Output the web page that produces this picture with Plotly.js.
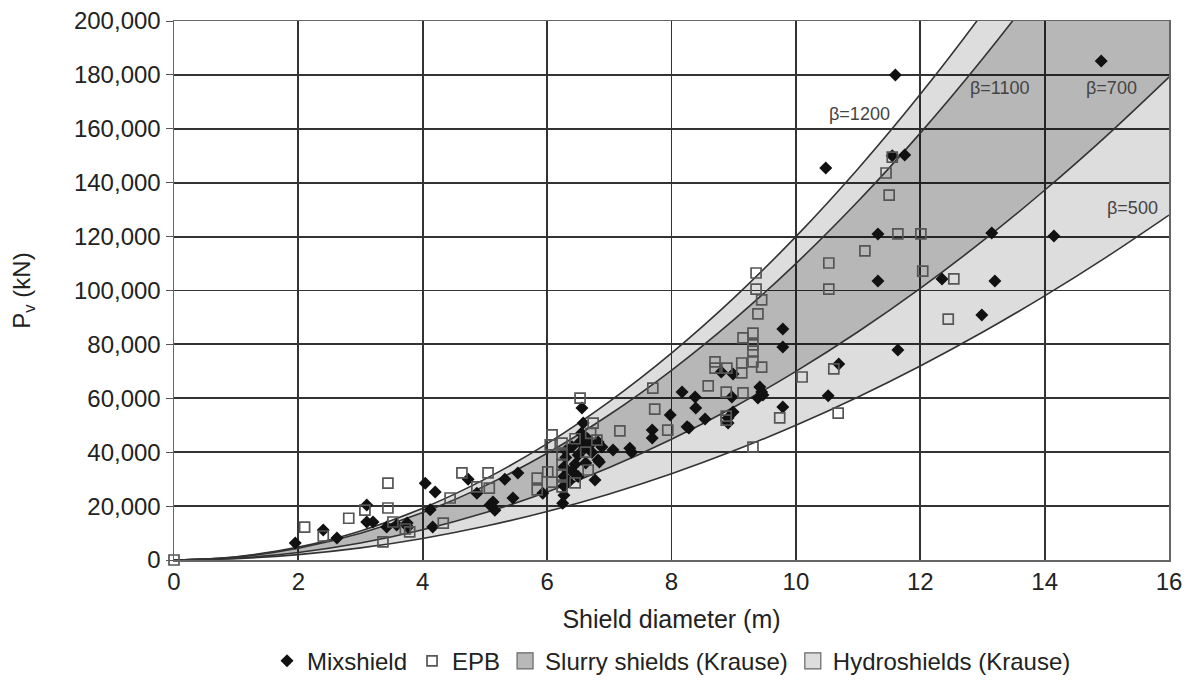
<!DOCTYPE html>
<html>
<head>
<meta charset="utf-8">
<script src="https://cdn.plot.ly/plotly-3.0.1.min.js"></script>
<style>html,body{margin:0;padding:0;background:#fff;}#chart{width:1191px;height:680px;}</style>
</head>
<body>
<div id="chart"></div>
<script>
// Shield diameter grid (m) for the Krause beta-curves
const diameter = [0,1,2,3,4,5,6,7,8,9,10,11,12,13,14,15,16];
// Pv values (kN)
const beta500  = [0,500,2000,4500,8000,12500,18000,24500,32000,40500,50000,60500,72000,84500,98000,112500,128000];
const beta700  = [0,700,2800,6300,11200,17500,25200,34300,44800,56700,70000,84700,100800,118300,137200,157500,179200];
const beta1100 = [0,1100,4400,9900,17600,27500,39600,53900,70400,89100,110000,133100,158400,185900,215600,247500,281600];
const beta1200 = [0,1200,4800,10800,19200,30000,43200,58800,76800,97200,120000,145200,172800,202800,235200,270000,307200];

// Mixshield data points
const mixD = [1.95,2.40,2.62,3.10,3.10,3.20,3.42,3.58,3.75,3.76,4.04,4.20,4.12,4.16,4.73,4.87,5.13,5.16,5.08,5.32,5.53,5.45,5.93,6.25,
  6.27,6.27,6.27,6.27,6.30,6.56,6.58,6.53,6.82,6.88,7.06,7.33,7.36,6.82,6.77,7.69,7.69,7.98,8.17,8.25,8.28,
  6.40,6.45,6.50,6.60,6.65,6.70,6.62,6.50,6.35,6.40,6.72,6.55,6.30,6.84,
  9.79,9.79,8.80,8.99,8.38,8.39,8.54,8.97,8.99,8.91,8.91,9.42,9.45,9.39,9.47,9.79,
  10.48,11.55,11.75,11.32,11.32,12.35,13.15,13.20,12.99,11.64,10.69,10.52,11.60,14.91,14.15];
const mixP = [6300,11100,8200,20400,14100,14100,12200,13000,13700,12200,28500,25200,18600,12200,30000,24800,21500,18500,20400,30000,32300,23000,24800,21100,
  24000,27500,31000,34500,38000,56400,50800,43800,43800,41900,40800,41500,40000,37100,29700,48200,45300,53800,62300,49400,49000,
  42000,35500,39000,41500,45000,43000,36000,31000,29000,33000,40000,47000,40500,36400,
  85700,79000,69800,69000,60500,56400,52300,60500,54900,52700,50800,64200,62300,60100,61200,56800,
  145500,150000,150300,121000,103500,104300,121300,103500,90900,77900,72700,60900,180000,185200,120200];

// EPB data points
const epbD = [0,2.10,2.40,2.81,3.07,3.44,3.44,3.36,3.52,3.79,3.72,4.33,4.44,4.63,5.05,5.07,4.87,5.84,5.84,6.08,6.05,6.53,
  6.24,6.24,6.24,6.24,6.24,6.08,6.74,7.17,7.73,7.70,7.94,6.01,6.45,6.66,6.62,6.70,6.45,6.80,
  9.36,9.36,9.45,9.39,9.31,9.15,9.31,9.31,8.70,8.70,8.89,9.13,9.31,9.45,9.13,8.59,8.88,9.15,8.88,8.88,10.10,9.74,9.31,
  11.45,11.50,11.64,12.01,11.11,10.53,10.53,12.04,12.54,12.45,10.61,10.68,11.55];
const epbP = [0,12200,8900,15500,18500,28500,19300,6700,14100,10400,11500,13700,23000,32300,32300,26700,27100,30400,26000,28900,42700,60100,
  43400,39000,35500,31500,27100,46400,50800,47900,56000,63800,48200,32700,28600,33400,40000,47000,45000,44500,
  106500,100500,96500,91300,84200,82400,79800,77500,73500,71200,71200,73100,73500,71600,69400,64600,62300,62000,53400,51900,67900,52700,41900,
  143600,135400,121000,121000,114700,110200,100500,107200,104300,89400,70900,54500,149500];

const xTicks = [0,2,4,6,8,10,12,14,16];
const yTicks = [0,20000,40000,60000,80000,100000,120000,140000,160000,180000,200000];
const yTickText = ['0','20,000','40,000','60,000','80,000','100,000','120,000','140,000','160,000','180,000','200,000'];

const lineStyle = {color:'#333', width:1.6, shape:'spline'};
const traces = [
  {x:diameter, y:beta500, mode:'lines', line:lineStyle, showlegend:false, hoverinfo:'skip'},
  {x:diameter, y:beta1200, mode:'lines', line:lineStyle, fill:'tonexty', fillcolor:'rgba(0,0,0,0.135)', showlegend:false, hoverinfo:'skip'},
  {x:diameter, y:beta700, mode:'lines', line:lineStyle, showlegend:false, hoverinfo:'skip'},
  {x:diameter, y:beta1100, mode:'lines', line:lineStyle, fill:'tonexty', fillcolor:'rgba(0,0,0,0.17)', showlegend:false, hoverinfo:'skip'},
  {x:mixD, y:mixP, mode:'markers', name:'Mixshield', cliponaxis:false,
   marker:{symbol:'diamond', size:10, color:'#111', line:{width:0}}},
  {x:epbD, y:epbP, mode:'markers', name:'EPB', cliponaxis:false,
   marker:{symbol:'square-open', size:10, color:'#555', line:{width:1.7, color:'#555'}}},
  {x:[null], y:[null], mode:'markers', name:'Slurry shields (Krause)',
   marker:{symbol:'square', size:16, color:'#b8b8b8', line:{width:1.2, color:'#666'}}},
  {x:[null], y:[null], mode:'markers', name:'Hydroshields (Krause)',
   marker:{symbol:'square', size:16, color:'#dddddd', line:{width:1.2, color:'#666'}}}
];

const fontFam = 'Liberation Sans, Arial, sans-serif';
const layout = {
  width:1191, height:680,
  margin:{l:174, r:22, t:21, b:120, autoexpand:false},
  paper_bgcolor:'#fff', plot_bgcolor:'#fff',
  font:{family:fontFam, size:24, color:'#222'},
  showlegend:true,
  legend:{orientation:'h', traceorder:'normal', x:0.5, xanchor:'center', y:-0.146, yanchor:'top',
          font:{family:fontFam, size:24, color:'#222'}, itemwidth:30, tracegroupgap:0},
  xaxis:{range:[0,16], tickvals:xTicks, ticktext:xTicks.map(String), showgrid:true, gridcolor:'#333', gridwidth:1.8,
         zeroline:false, showline:true, mirror:true, linecolor:'#666', linewidth:1.5, ticks:'',
         tickfont:{size:24, color:'#222'}, fixedrange:true, automargin:false,
         title:{text:'Shield diameter (m)', font:{size:25, color:'#222'}, standoff:16}},
  yaxis:{range:[0,200000], tickvals:yTicks, ticktext:yTickText, showgrid:true, gridcolor:'#333', gridwidth:1.8,
         zeroline:false, showline:true, mirror:true, linecolor:'#666', linewidth:1.5, ticks:'outside', ticklen:7, tickcolor:'#555',
         tickfont:{size:24, color:'#222'}, fixedrange:true, automargin:false,
         title:{text:'P<sub>v</sub> (kN)', font:{size:24, color:'#222'}, standoff:36}},
  annotations:[
    {x:11.03, y:165500, text:'β=1200', showarrow:false, font:{size:18, color:'#444'}},
    {x:13.28, y:175100, text:'β=1100', showarrow:false, font:{size:18, color:'#444'}},
    {x:15.08, y:175100, text:'β=700', showarrow:false, font:{size:18, color:'#444'}},
    {x:15.42, y:130600, text:'β=500', showarrow:false, font:{size:18, color:'#444'}}
  ]
};
Plotly.newPlot('chart', traces, layout, {displayModeBar:false, staticPlot:true});
</script>
</body>
</html>
